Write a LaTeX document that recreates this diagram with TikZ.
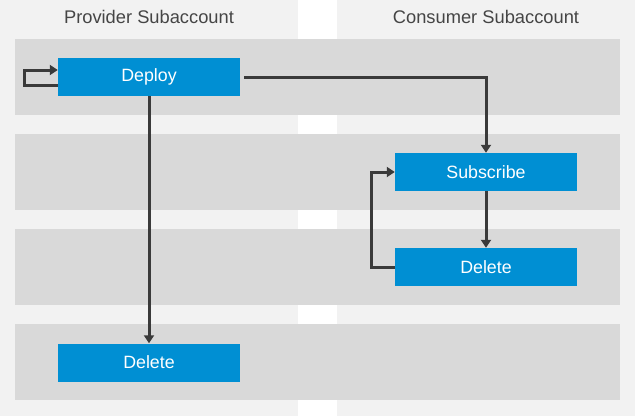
\documentclass[tikz,border=0pt]{standalone}
\usepackage{fontspec}
\setmainfont{Liberation Sans}
\usetikzlibrary{arrows.meta}
\definecolor{colbg}{HTML}{F2F2F2}
\definecolor{rowbg}{HTML}{D9D9D9}
\definecolor{sapblue}{HTML}{008FD3}
\definecolor{linec}{HTML}{3A3A3A}
\definecolor{headc}{HTML}{454545}
\tikzset{
  stepbox/.style={fill=sapblue, minimum width=182pt, minimum height=38pt, inner sep=0pt,
    text=white, font=\fontsize{17.8}{20}\selectfont},
  header/.style={text=headc, font=\fontsize{18.3}{21}\selectfont},
  conn/.style={draw=linec, line width=3pt, -{Triangle[length=8pt,width=10pt]}},
}
\begin{document}
\begin{tikzpicture}[x=1pt,y=-1pt]
\useasboundingbox (0,0) rectangle (635,416);
\fill[white] (0,0) rectangle (635,416);
% columns
\fill[colbg] (0,0) rectangle (298,416);
\fill[colbg] (337,0) rectangle (635,416);
% rows
\foreach \y in {39,134,229,324} \fill[rowbg] (15,\y) rectangle (620,\y+76);
% headers
\node[header] (hprov) at (149,17) {Provider Subaccount};
\node[header] (hcons) at (486,17) {Consumer Subaccount};
% boxes
\node[stepbox] (deploy) at (149,77) {Deploy};
\node[stepbox] (sub) at (486,172) {Subscribe};
\node[stepbox] (cdel) at (486,267) {Delete};
\node[stepbox] (pdel) at (149,362.5) {Delete};
% connectors
\draw[conn] ([yshift=-8pt]deploy.west) -- ++(-33,0) |- ([yshift=7pt]deploy.west);
\draw[conn] ([xshift=4pt]deploy.east) -| (sub.north);
\draw[conn] (deploy.south) -- (pdel.north);
\draw[conn] (sub.south) -- (cdel.north);
\draw[conn] (cdel.west) -- ++(-23,0) |- (sub.west);
\end{tikzpicture}
\end{document}
